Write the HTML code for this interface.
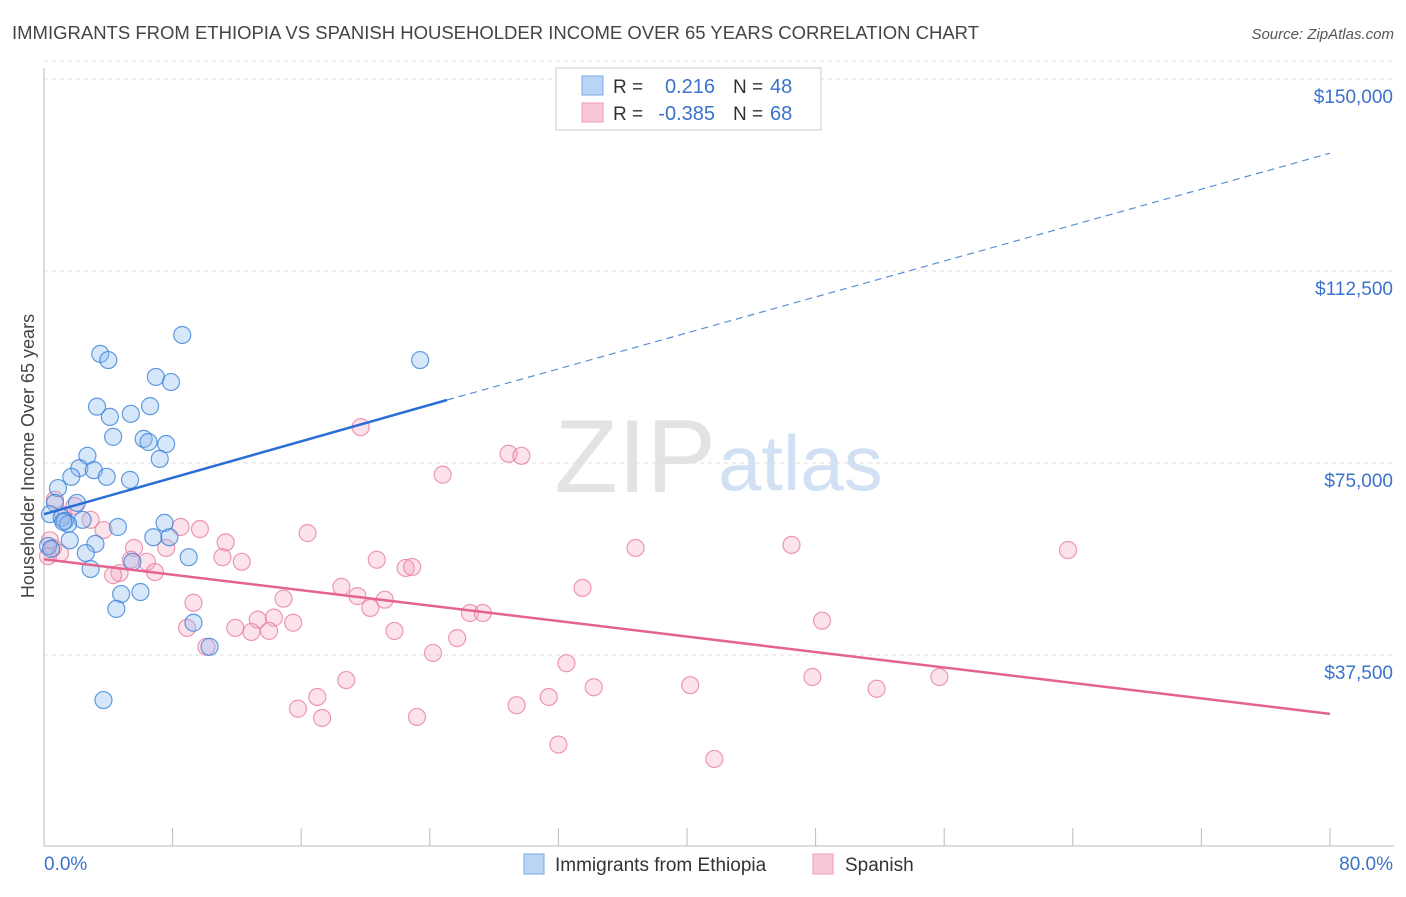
<!DOCTYPE html>
<html><head><meta charset="utf-8">
<style>
body{margin:0;background:#fff;font-family:"Liberation Sans",sans-serif;}
svg text{font-family:"Liberation Sans",sans-serif;}
</style></head>
<body>
<svg id="chart" width="1406" height="892" xmlns="http://www.w3.org/2000/svg">
<text x="12" y="39" font-size="18" fill="#444" textLength="967" lengthAdjust="spacingAndGlyphs">IMMIGRANTS FROM ETHIOPIA VS SPANISH HOUSEHOLDER INCOME OVER 65 YEARS CORRELATION CHART</text>
<text x="1394" y="39" font-size="15" fill="#555" text-anchor="end" font-style="italic">Source: ZipAtlas.com</text>
<text x="716" y="492" font-size="104" fill="#ddd" text-anchor="end" font-family="Liberation Serif" opacity="0.8">ZIP</text>
<text x="718" y="490" font-size="78" fill="#c6d9ef" opacity="0.8">atlas</text>
<g id="grid"></g>
<g id="axes"></g>
<g id="pts"></g>
<g id="lines"></g>
<text transform="translate(34,456) rotate(-90)" font-size="18" fill="#444" text-anchor="middle">Householder Income Over 65 years</text>
<g>
<rect x="556" y="68" width="265" height="62" fill="#fff" stroke="#ccc"/>
<rect x="582" y="76" width="21" height="19" fill="#b9d4f5" stroke="#7aa9e6"/>
<rect x="582" y="103" width="21" height="19" fill="#f9c8d6" stroke="#ee98b3"/>
<text x="613" y="93" font-size="19" fill="#333">R =</text>
<text x="715" y="93" font-size="20" fill="#3a73c9" text-anchor="end">0.216</text>
<text x="733" y="93" font-size="19" fill="#333">N =</text>
<text x="770" y="93" font-size="20" fill="#3a73c9">48</text>
<text x="613" y="120" font-size="19" fill="#333">R =</text>
<text x="715" y="120" font-size="20" fill="#3a73c9" text-anchor="end">-0.385</text>
<text x="733" y="120" font-size="19" fill="#333">N =</text>
<text x="770" y="120" font-size="20" fill="#3a73c9">68</text>
</g>
<g>
<rect x="524" y="854" width="20" height="20" fill="#b9d4f5" stroke="#7aa9e6"/>
<text x="555" y="871" font-size="19" fill="#333">Immigrants from Ethiopia</text>
<rect x="813" y="854" width="20" height="20" fill="#f9c8d6" stroke="#ee98b3"/>
<text x="845" y="871" font-size="19" fill="#333">Spanish</text>
</g>
</svg>
<script>
const yTicks=[37500,75000,112500,150000];
const yTickLabels=["$37,500","$75,000","$112,500","$150,000"];
const xTickLabels=["0.0%","80.0%"];
const blueX=[8.6,3.5,4.0,23.4,6.96,7.9,3.3,6.6,4.1,5.4,4.3,6.2,6.5,7.6,7.2,2.7,2.2,3.1,1.7,3.9,5.35,0.87,2.05,0.68,0.37,1.1,1.3,2.4,1.5,4.6,7.5,6.8,7.8,1.6,0.25,3.2,2.6,9.0,0.44,5.5,2.9,4.8,6.0,4.5,9.3,10.3,3.7,1.2];
const blueY=[100000,96300,95100,95100,91800,90800,86000,86100,84000,84600,80100,79700,79100,78700,75800,76400,74000,73600,72300,72300,71700,70100,67200,67200,65000,64300,63700,63900,63100,62500,63300,60500,60500,59900,58800,59200,57400,56600,58200,55700,54300,49400,49800,46500,43800,39100,28700,63500];
const pinkX=[19.7,24.8,28.9,29.7,63.7,16.4,9.7,8.5,11.3,36.8,46.5,7.6,5.6,3.7,2.9,1.2,0.68,0.37,0.56,6.4,11.1,12.3,20.7,22.5,22.9,5.4,4.7,4.3,6.9,18.5,33.5,19.5,20.3,21.2,14.9,9.3,26.5,27.3,48.4,15.5,13.3,14.3,8.9,11.9,12.9,14.0,21.8,25.7,24.2,32.5,10.1,18.8,34.2,17.0,40.2,47.8,51.8,55.7,15.8,17.3,31.4,29.4,23.2,32.0,41.7,1.0,0.25,1.9];
const pinkY=[82000,72700,76800,76400,58000,61300,62100,62500,59500,58400,59000,58400,58400,61900,63900,64900,67800,59900,58400,55700,56600,55700,56100,54500,54700,56100,53500,53100,53700,50800,50600,49000,46700,48300,48500,47700,45700,45700,44200,43800,44400,44800,42800,42800,42000,42200,42200,40800,37900,35900,39100,32600,31200,29300,31600,33200,30900,33200,27000,25200,29300,27700,25400,20000,17200,57400,56800,66600];
const blueLine=[0,65000,25.07,87300];
const blueDash=[25.07,87300,80,135500];
const pinkLine=[0,56200,80,26000];
const NS="http://www.w3.org/2000/svg";
const X=p=>44+p*16.075, Y=v=>847-v/195.3;
function mk(tag,attrs,parent){const e=document.createElementNS(NS,tag);for(const k in attrs)e.setAttribute(k,attrs[k]);document.getElementById(parent).appendChild(e);return e;}
yTicks.forEach((t,i)=>{
 let g=mk('line',{x1:44,x2:1394,y1:Y(t),y2:Y(t),stroke:'#ddd','stroke-dasharray':'4,4'},'grid');
 
 
 let l=mk('text',{x:1393,y:Y(t)+24,'font-size':19,fill:'#3a73c9','text-anchor':'end'},'axes');l.textContent=yTickLabels[i];
 
 
});
let tl=mk('line',{x1:44,x2:1394,y1:Y(150000)-18,y2:Y(150000)-18,stroke:'#ddd','stroke-dasharray':'4,4'},'grid');
let ax=mk('line',{x1:44,x2:1394,y1:846,y2:846,stroke:'#bbb'},'axes');


let ay=mk('line',{x1:44,x2:44,y1:68,y2:846,stroke:'#bbb'},'axes');


for(let i=1;i<=10;i++){let t=mk('line',{x1:X(i*8),x2:X(i*8),y1:828,y2:846,stroke:'#bbb'},'axes');
 
 }
let x0=mk('text',{x:44,y:870,'font-size':19,fill:'#3a73c9'},'axes');x0.textContent=xTickLabels[0];


let x1=mk('text',{x:1393,y:870,'font-size':19,fill:'#3a73c9','text-anchor':'end'},'axes');x1.textContent=xTickLabels[1];


pinkX.forEach((x,i)=>{let c=mk('circle',{cx:X(x),cy:Y(pinkY[i]),r:8.5,fill:'rgba(244,160,186,0.3)',stroke:'rgba(232,120,155,0.75)','stroke-width':1.2},'pts');
 
 });
blueX.forEach((x,i)=>{let c=mk('circle',{cx:X(x),cy:Y(blueY[i]),r:8.5,fill:'rgba(140,185,240,0.35)',stroke:'rgba(60,130,215,0.8)','stroke-width':1.2},'pts');
 
 });
let bl=mk('line',{x1:X(blueLine[0]),y1:Y(blueLine[1]),x2:X(blueLine[2]),y2:Y(blueLine[3]),stroke:'#2a6fd6','stroke-width':2.5},'lines');


let bd=mk('line',{x1:X(blueDash[0]),y1:Y(blueDash[1]),x2:X(blueDash[2]),y2:Y(blueDash[3]),stroke:'#5b8fd6','stroke-width':1.2,'stroke-dasharray':'7,5'},'lines');


let pl=mk('line',{x1:X(pinkLine[0]),y1:Y(pinkLine[1]),x2:X(pinkLine[2]),y2:Y(pinkLine[3]),stroke:'#e4638f','stroke-width':2.5},'lines');


</script>
</body></html>
